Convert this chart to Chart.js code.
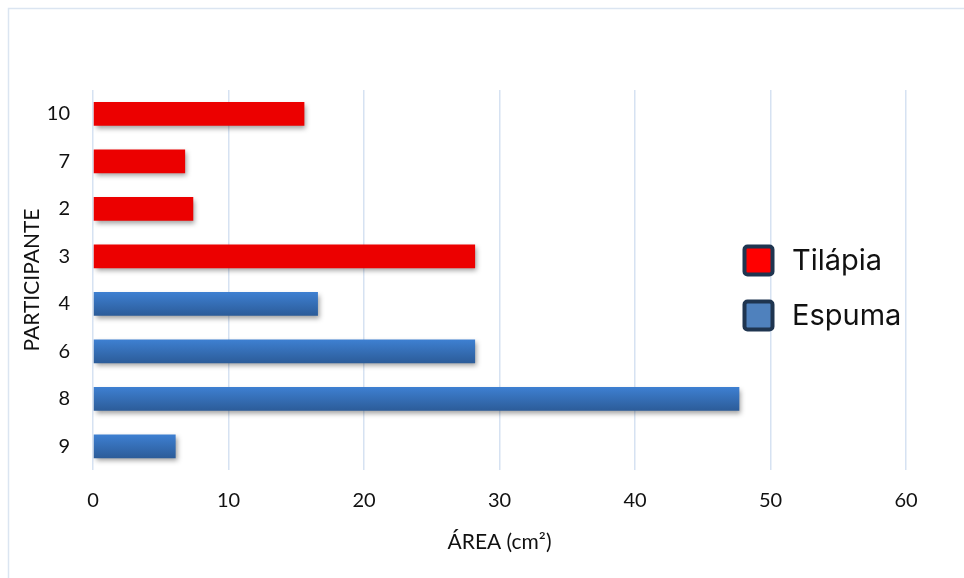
<!DOCTYPE html>
<html>
<head>
<meta charset="utf-8">
<script src="https://cdn.jsdelivr.net/npm/chart.js@4.4.1/dist/chart.umd.min.js"></script>
<style>
  html, body { margin: 0; padding: 0; background: #ffffff; }
  #wrap { width: 964px; height: 578px; position: relative; }
</style>
</head>
<body>
<div id="wrap"><canvas id="chart" width="964" height="578"></canvas></div>
<script>
// Participants, top to bottom
const participantes = ['10', '7', '2', '3', '4', '6', '8', '9'];
// Wound area (cm²) per participant, by dressing
const tilapia = [15.6, 6.8, 7.4, 28.2, null, null, null, null];
const espuma  = [null, null, null, null, 16.6, 28.2, 47.7, 6.1];
const xTicks  = [0, 10, 20, 30, 40, 50, 60];

const legendItems = [
  { label: 'Tilápia', color: '#ff0000' },
  { label: 'Espuma',  color: '#4f81bd' }
];

const TICK_FONT = { family: 'Lato, "Open Sans", sans-serif', size: 20 };
const TITLE_FONT = { family: 'Lato, "Open Sans", sans-serif', size: 21 };

// vertical gradient for each Espuma bar
function espumaFill(ctx) {
  const chart = ctx.chart;
  const area = chart.chartArea;
  const yScale = chart.scales.y;
  if (!area || !yScale) return '#3570b8';
  const band = (area.bottom - area.top) / participantes.length;
  const half = band * 0.25;
  const yc = yScale.getPixelForValue(ctx.dataIndex);
  if (!isFinite(yc)) return '#3570b8';
  const g = chart.ctx.createLinearGradient(0, yc - half, 0, yc + half);
  g.addColorStop(0, '#3e80d2');
  g.addColorStop(1, '#2c5c99');
  return g;
}

// soft drop shadow under the bars
const barShadow = {
  id: 'barShadow',
  beforeDatasetsDraw(chart) {
    const c = chart.ctx;
    c.save();
    c.shadowColor = 'rgba(0,0,0,0.38)';
    c.shadowBlur = 5;
    c.shadowOffsetX = 2;
    c.shadowOffsetY = 3;
  },
  afterDatasetsDraw(chart) {
    chart.ctx.restore();
  }
};

// frame lines of the chart box
const frame = {
  id: 'frame',
  beforeDraw(chart) {
    const c = chart.ctx;
    c.save();
    c.strokeStyle = '#dbe5f1';
    c.lineWidth = 1.5;
    c.beginPath();
    c.moveTo(8.5, chart.height + 2);
    c.lineTo(8.5, 8.5);
    c.lineTo(chart.width + 2, 8.5);
    c.stroke();
    c.restore();
  }
};

// legend drawn inside the plot, to the right
const sideLegend = {
  id: 'sideLegend',
  afterDraw(chart) {
    const c = chart.ctx;
    c.save();
    const x0 = 743, y0 = 245, size = 31, gap = 55;
    legendItems.forEach((it, i) => {
      const y = y0 + i * gap;
      c.beginPath();
      c.roundRect(x0 + 1.5, y + 1.5, size - 3, size - 3, 3);
      c.fillStyle = it.color;
      c.fill();
      c.lineWidth = 4;
      c.strokeStyle = '#1f3550';
      c.stroke();
      c.fillStyle = '#111111';
      c.font = '29px Inter, "Noto Sans", sans-serif';
      c.textBaseline = 'middle';
      c.textAlign = 'left';
      c.fillText(it.label, 792, y + size / 2 + 1);
    });
    c.restore();
  }
};

new Chart(document.getElementById('chart'), {
  type: 'bar',
  data: {
    labels: participantes,
    datasets: [
      { label: legendItems[0].label, data: tilapia, backgroundColor: '#ec0000', borderWidth: 0 },
      { label: legendItems[1].label, data: espuma, backgroundColor: espumaFill, borderWidth: 0 }
    ]
  },
  options: {
    indexAxis: 'y',
    responsive: false,
    animation: false,
    devicePixelRatio: 1,
    categoryPercentage: 1,
    barPercentage: 0.5,
    layout: { padding: { left: 16, top: 90, right: 58, bottom: 19 } },
    plugins: {
      legend: { display: false },
      tooltip: { enabled: false }
    },
    scales: {
      x: {
        stacked: true,
        min: xTicks[0],
        max: xTicks[xTicks.length - 1],
        afterBuildTicks(scale) { scale.ticks = xTicks.map(v => ({ value: v })); },
        afterFit(scale) { scale.height = 89; },
        grid: { color: '#d6e2f2', lineWidth: 1.5, drawTicks: false },
        border: { display: false },
        ticks: { color: '#111111', font: TICK_FONT, padding: 19 },
        title: { display: true, text: 'ÁREA (cm²)', color: '#111111', font: TITLE_FONT, padding: { top: 4, bottom: 4 } }
      },
      y: {
        stacked: true,
        afterFit(scale) { scale.width = 77; },
        grid: { display: false, drawTicks: false },
        border: { display: false },
        ticks: { color: '#111111', font: TICK_FONT, padding: 23 },
        title: { display: true, text: 'PARTICIPANTE', color: '#111111', font: TITLE_FONT, padding: { top: 4, bottom: 4 } }
      }
    }
  },
  plugins: [frame, barShadow, sideLegend]
});
</script>
</body>
</html>
